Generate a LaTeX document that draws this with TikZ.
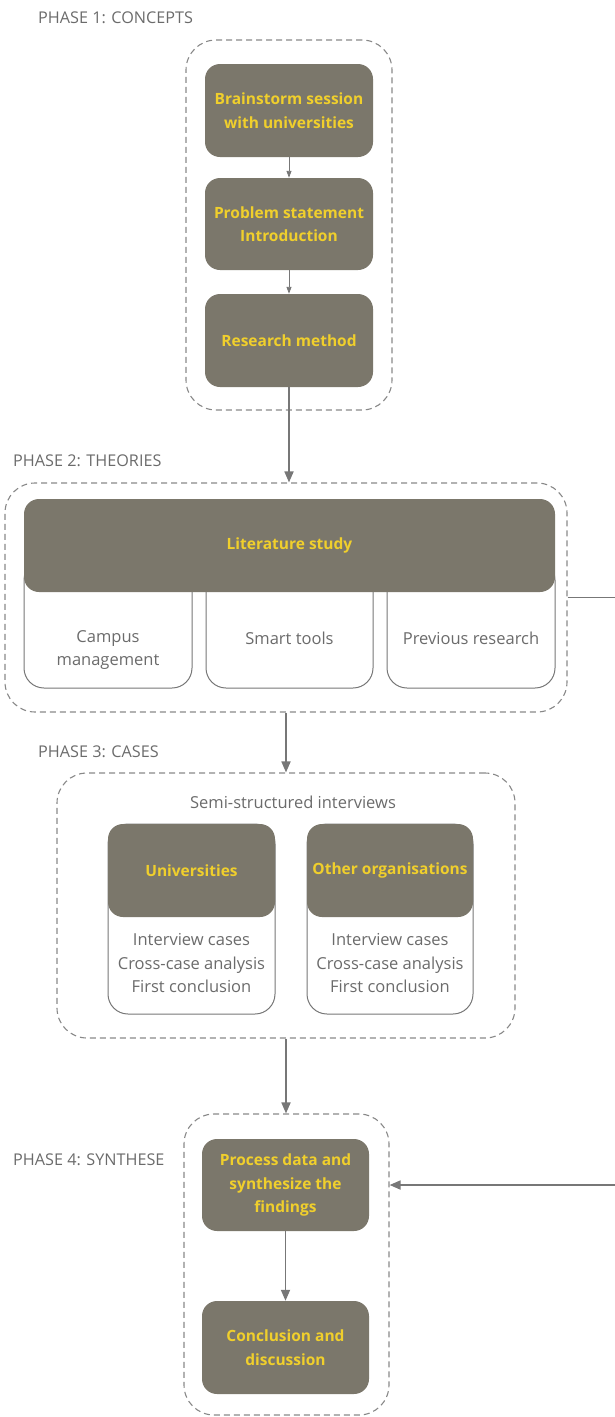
\documentclass[tikz,border=0pt]{standalone}
\usepackage{fontspec}
\setmainfont{Open Sans}
\usetikzlibrary{arrows.meta}
\definecolor{boxfill}{HTML}{7B776B}
\definecolor{ytext}{HTML}{F0CF2C}
\definecolor{gtext}{HTML}{6B6B6B}
\definecolor{gline}{HTML}{777777}
\definecolor{dline}{HTML}{888888}
\tikzset{
  dashbox/.style={draw=dline, line width=1.1pt, dash pattern=on 6pt off 4pt, rounded corners=30pt},
  darkbox/.style={fill=boxfill, rounded corners=15pt, text=ytext, font=\fontsize{15.5}{23.5}\selectfont\bfseries, align=center, inner sep=0pt},
  lightbox/.style={draw=gline, line width=1pt, fill=white, rounded corners=20pt},
  gtxt/.style={text=gtext, font=\fontsize{16.5}{23.5}\selectfont, align=center, inner sep=0pt},
  phase/.style={text=gtext, font=\fontsize{16.2}{17}\selectfont, anchor=west, inner sep=0pt},
  arr/.style={draw=gline, line width=1.7pt, -{Triangle[length=11pt,width=9pt]}},
  sarr/.style={draw=gline, line width=0.9pt, -{Triangle[length=7pt,width=5pt]}}
}
\begin{document}
\begin{tikzpicture}[x=1pt,y=-1pt]
\useasboundingbox (0,0) rectangle (615,1417);
% Phase labels
\node[phase] (l1) at (38,18) {PHASE 1: CONCEPTS};
\node[phase] (l2) at (13,461) {PHASE 2: THEORIES};
\node[phase] (l3) at (38,752) {PHASE 3: CASES};
\node[phase] (l4) at (13,1160) {PHASE 4: SYNTHESE};
% Phase 1
\node[dashbox, minimum width=206pt, minimum height=370pt] (p1) at (289,225) {};
\node[darkbox, minimum width=168pt, minimum height=93pt] (b1) at (289,110.5) {Brainstorm session\\with universities};
\node[darkbox, minimum width=168pt, minimum height=92pt] (b2) at (289,224) {Problem statement\\Introduction};
\node[darkbox, minimum width=168pt, minimum height=93pt] (b3) at (289,340.5) {Research method};
% Phase 2
\node[dashbox, minimum width=562pt, minimum height=229pt] (p2) at (286,597.5) {};
\node[lightbox, minimum width=168pt, minimum height=128pt] (s1) at (108,624) {};
\node[lightbox, minimum width=167pt, minimum height=128pt] (s2) at (289.5,624) {};
\node[lightbox, minimum width=168pt, minimum height=128pt] (s3) at (471,624) {};
\node[darkbox, minimum width=531pt, minimum height=93pt] (lit) at (289.5,545.5) {Literature study};
\node[gtxt] (t1) at (108,650) {Campus\\management};
\node[gtxt] (t2) at (289.5,638) {Smart tools};
\node[gtxt] (t3) at (471,638) {Previous research};
% Phase 3
\node[dashbox, minimum width=458pt, minimum height=265pt] (p3) at (286,905.5) {};
\node[gtxt] (semi) at (293,802) {Semi-structured interviews};
\node[lightbox, minimum width=167pt, minimum height=190pt] (u) at (191.5,919) {};
\node[darkbox, minimum width=167pt, minimum height=93pt] (uh) at (191.5,870.5) {Universities};
\node[gtxt] (ut) at (191.5,963.5) {Interview cases\\Cross-case analysis\\First conclusion};
\node[lightbox, minimum width=166pt, minimum height=190pt] (o) at (390,919) {};
\node[darkbox, minimum width=166pt, minimum height=93pt] (oh) at (390,870.5) {Other organisations};
\node[gtxt] (ot) at (390,963.5) {Interview cases\\Cross-case analysis\\First conclusion};
% Phase 4
\node[dashbox, minimum width=205pt, minimum height=301pt] (p4) at (286.5,1264.5) {};
\node[darkbox, minimum width=167pt, minimum height=92pt] (proc) at (285.5,1185) {Process data and\\synthesize the\\findings};
\node[darkbox, minimum width=167pt, minimum height=93pt] (concl) at (285.5,1347.5) {Conclusion and\\discussion};
% Connectors
\draw[sarr] (b1.south) -- (b2.north);
\draw[sarr] (b2.south) -- (b3.north);
\draw[arr] (b3.south) -- (b3.south |- p2.north);
\draw[arr] (p2.south) -- (p2.south |- p3.north);
\draw[arr] (p3.south) -- (p3.south |- p4.north);
\draw[arr] (proc.south) -- (concl.north);
\draw[arr] (p2.east) -- ++(80,0) |- (p4.east |- proc.east);
\end{tikzpicture}
\end{document}
